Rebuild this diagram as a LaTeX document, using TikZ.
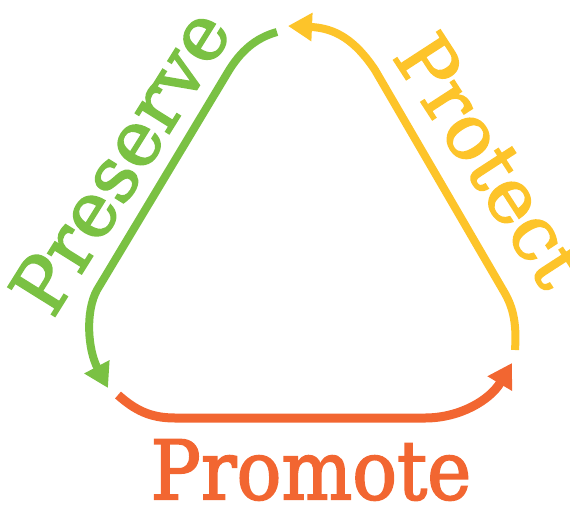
\documentclass[tikz,border=0pt]{standalone}
\usepackage{fontspec}
\usepackage{graphicx}
\setmainfont{DejaVu Serif}[FakeBold=2.2,AutoFakeBold=2.2]
\usetikzlibrary{arrows.meta}
\definecolor{pgreen}{HTML}{7AC143}
\definecolor{pyellow}{HTML}{FDC42A}
\definecolor{porange}{HTML}{F26631}
\begin{document}
\begin{tikzpicture}[x=1pt,y=-1pt,
  arc/.style={line width=8pt, -{Triangle[width=27pt,length=24pt]}},
  word/.style={inner sep=0pt, font=\fontsize{76}{76}\selectfont\bfseries}]
\useasboundingbox (0,0) rectangle (570,504);
\coordinate (gs) at (277,32);
\coordinate (ge) at (108,388);
\coordinate (ys) at (515,350);
\coordinate (ye) at (288,26);
\coordinate (os) at (118,395);
\coordinate (oe) at (512,363);
\draw[arc, pgreen] (gs) .. controls (255,38) and (240,52) .. (228,72) -- (97,290) .. controls (85,312) and (88,350) .. (ge);
\draw[arc, pyellow] (ys) .. controls (517,320) and (512,305) .. (503,290) -- (375,70) .. controls (355,40) and (335,28) .. (ye);
\draw[arc, porange, line width=9pt] (os) .. controls (135,410) and (150,418) .. (175,418) -- (425,418) .. controls (460,418) and (490,400) .. (oe);
\node[word, text=pgreen, rotate=58] (preserve) at (120,161) {Preserve};
\node[word, text=pyellow, rotate=-57] (protect) at (491,160) {Protect};
\node[word, text=porange, font=\fontsize{82}{82}\selectfont\bfseries] (promote) at (311,470) {\scalebox{0.91}[1]{Promote}};
\end{tikzpicture}
\end{document}
